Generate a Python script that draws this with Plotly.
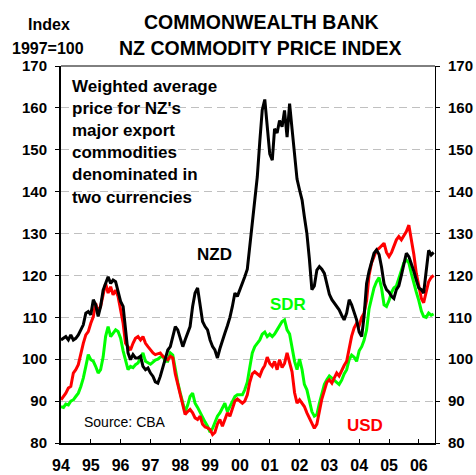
import pandas as pd
import plotly.graph_objects as go

# Monthly observations, Jan 1994 .. Jul 2006 (index 1997=100)
start_month = "1994-01-01"

nzd = [104.6, 105.0, 105.4, 104.6, 105.8, 104.6, 105.0, 105.8, 107.0, 108.2, 111.0, 111.4,
       110.6, 114.2, 113.0, 110.2, 112.6, 116.5, 118.1, 119.7, 118.1, 118.9, 118.5, 116.5,
       113.8, 112.6, 107.8, 101.5, 99.9, 101.1, 100.3, 100.3, 100.7, 98.3, 97.5, 97.9,
       96.7, 95.9, 94.6, 94.3, 95.9, 98.0, 100.5, 102.2, 103.0, 105.5, 107.8, 107.0,
       105.0, 103.0, 104.6, 106.0, 107.8, 112.6, 115.8, 117.0, 113.4, 109.0, 107.8, 107.0,
       104.6, 103.0, 102.2, 100.3, 102.5, 104.6, 106.2, 108.0, 110.0, 112.6, 115.8, 115.0,
       116.5, 118.1, 119.7, 121.5, 127.0, 133.0, 138.0, 143.5, 152.0, 159.5, 162.0, 155.0,
       149.0, 147.5, 155.0, 154.0, 157.0, 155.5, 159.4, 153.0, 161.0, 155.0, 149.5, 143.0,
       140.4, 138.0, 134.0, 130.0, 124.0, 116.6, 117.5, 121.3, 122.1, 121.5, 120.5, 118.1,
       115.5, 114.2, 113.4, 112.6, 111.8, 110.5, 109.4, 111.0, 114.2, 113.0, 111.0, 109.4,
       106.5, 105.4, 110.2, 118.1, 121.0, 123.5, 125.3, 126.1, 125.0, 122.0, 118.0, 116.6,
       116.0, 115.0, 114.5, 116.6, 117.5, 120.0, 123.0, 125.3, 124.5, 123.0, 121.0, 118.9,
       117.0, 116.6, 115.8, 121.0, 126.0, 124.9, 125.5]

usd = [90.3, 91.1, 91.9, 93.1, 93.5, 96.7, 97.5, 98.7, 101.5, 103.8, 105.8, 106.6,
       108.6, 110.2, 113.4, 111.4, 112.6, 115.4, 118.1, 115.8, 117.3, 115.4, 116.5, 115.0,
       111.8, 108.6, 103.8, 103.0, 102.2, 103.8, 105.0, 105.4, 104.6, 105.4, 103.8, 103.0,
       102.2, 101.5, 101.1, 101.3, 101.5, 100.7, 100.3, 99.9, 100.7, 100.3, 96.5, 94.0,
       92.0, 89.0, 86.8, 87.5, 88.0, 87.2, 86.0, 85.6, 86.4, 84.5, 83.8, 83.6,
       83.2, 82.0, 82.5, 84.5, 85.6, 84.0, 85.5, 87.2, 86.4, 88.0, 90.0, 90.5,
       90.0, 89.5, 90.0, 91.5, 94.5, 96.5, 97.0, 96.5, 96.0, 97.5, 98.5, 100.5,
       99.0, 98.3, 99.5, 97.5, 99.9, 98.0, 99.0, 101.5, 99.0, 97.0, 92.0, 89.5,
       90.3, 89.5, 88.7, 87.2, 86.0, 85.0, 83.5, 84.5, 88.0, 90.5, 92.5, 94.5,
       95.1, 94.3, 95.5, 96.7, 96.0, 97.5, 98.5, 99.5, 102.5, 105.5, 107.5, 108.6,
       108.0, 110.0, 111.0, 114.0, 120.0, 123.0, 124.5, 126.1, 126.5, 127.0, 127.7, 125.5,
       124.5, 125.5, 126.9, 128.5, 129.3, 128.5, 129.5, 130.5, 132.0, 129.0, 125.0, 120.5,
       117.0, 114.5, 113.5, 116.0, 118.5, 119.5, 120.0]

sdr = [88.7, 88.5, 89.3, 89.1, 90.0, 90.3, 91.1, 91.9, 93.5, 95.5, 98.3, 101.1,
       99.9, 99.5, 98.3, 96.7, 97.5, 100.5, 105.4, 107.8, 105.4, 106.2, 107.0, 106.6,
       105.0, 102.0, 99.9, 97.5, 98.3, 98.0, 98.7, 99.1, 100.3, 101.5, 99.5, 99.1,
       98.8, 99.3, 99.8, 100.0, 100.5, 100.7, 99.5, 99.5, 101.5, 101.0, 97.5, 94.5,
       91.9, 89.5, 87.5, 89.0, 91.1, 91.9, 89.5, 88.5, 87.2, 86.0, 85.0, 84.0,
       82.6, 83.5, 84.8, 86.4, 87.2, 88.5, 89.5, 87.5, 88.7, 90.0, 91.1, 91.5,
       91.5, 91.5, 92.7, 94.5, 98.0, 101.5, 103.0, 103.8, 104.6, 106.0, 106.5, 105.4,
       106.0, 105.4, 106.0, 107.0, 108.0, 109.0, 109.4, 107.0, 106.0, 103.0, 99.5, 97.5,
       100.0, 97.5, 94.0, 92.7, 90.0, 87.5, 86.4, 86.8, 89.5, 92.0, 94.0, 95.1,
       96.0, 95.5, 95.1, 94.5, 94.0, 95.0, 96.5, 97.5, 99.9, 101.0, 100.5, 99.5,
       102.0, 103.0, 104.5, 107.0, 112.0, 115.0, 117.0, 118.5, 119.5, 117.0, 113.0, 112.6,
       114.0, 116.0, 117.0, 117.5, 119.5, 121.5, 123.0, 123.7, 123.0, 120.5, 118.0, 116.0,
       114.0, 111.5, 110.2, 110.0, 111.0, 110.5, 110.8]

year_ticks = ["1994-01-01", "1995-01-01", "1996-01-01", "1997-01-01", "1998-01-01",
              "1999-01-01", "2000-01-01", "2001-01-01", "2002-01-01", "2003-01-01",
              "2004-01-01", "2005-01-01", "2006-01-01"]
year_labels = ["94", "95", "96", "97", "98", "99", "00", "01", "02", "03", "04", "05", "06"]
y_ticks = [80, 90, 100, 110, 120, 130, 140, 150, 160, 170]

dates = pd.date_range(start_month, periods=len(nzd), freq="MS")

FONT = "Arial, 'Liberation Sans', sans-serif"

PAGE_W, PAGE_H = 476, 475
L, R, T, B = 60.5, 435.0, 66.0, 443.0   # plot-area edges in page pixels

fig = go.Figure()
fig.add_trace(go.Scatter(x=dates, y=sdr, mode="lines", name="SDR",
                         line=dict(color="#00ff00", width=3), hoverinfo="skip"))
fig.add_trace(go.Scatter(x=dates, y=usd, mode="lines", name="USD",
                         line=dict(color="#ff0000", width=3), hoverinfo="skip"))
fig.add_trace(go.Scatter(x=dates, y=nzd, mode="lines", name="NZD",
                         line=dict(color="#000000", width=3), hoverinfo="skip"))
# invisible trace to carry the right-hand axis
fig.add_trace(go.Scatter(x=dates, y=nzd, mode="lines", yaxis="y2", showlegend=False,
                         line=dict(color="rgba(0,0,0,0)", width=0), hoverinfo="skip"))

tickfont = dict(family=FONT, size=15, color="black", weight="bold")

fig.update_layout(
    width=PAGE_W, height=PAGE_H,
    margin=dict(l=L, r=PAGE_W - R, t=T, b=PAGE_H - B, autoexpand=False),
    paper_bgcolor="white", plot_bgcolor="white",
    showlegend=False,
    font=dict(family=FONT, color="black"),
    xaxis=dict(
        type="date",
        range=["1994-01-01", "2006-07-18"],
        tickvals=year_ticks, ticktext=year_labels,
        ticks="inside", ticklen=4, tickwidth=1, tickcolor="black",
        showline=True, linecolor="black", linewidth=2,
        showgrid=False, zeroline=False, automargin=False,
        tickfont=dict(family=FONT, size=16, color="black", weight="bold"),
        ticklabelstandoff=7,
    ),
    yaxis=dict(
        range=[80, 170], tickvals=y_ticks,
        ticks="outside", ticklen=4, tickwidth=1, tickcolor="black",
        showline=True, linecolor="black", linewidth=2,
        showgrid=True, gridcolor="#c0c0c0", gridwidth=1, griddash="8px,5px",
        zeroline=False, automargin=False, tickfont=tickfont, ticklabelstandoff=5,
    ),
    yaxis2=dict(
        range=[80, 170], tickvals=y_ticks, overlaying="y", side="right",
        ticks="outside", ticklen=4, tickwidth=1, tickcolor="black",
        showline=True, linecolor="black", linewidth=1,
        showgrid=False, zeroline=False, automargin=False,
        tickfont=tickfont, ticklabelstandoff=5,
    ),
    shapes=[dict(type="line", xref="paper", yref="paper", x0=0, x1=1, y0=1, y1=1,
                 line=dict(color="black", width=1))],
)

ann = []
def add_text(text, x, y, size, color="black", bold=True, xanchor="center", align="center"):
    ann.append(dict(text=text, x=(x - L) / (R - L), y=(B - y) / (B - T),
                    xref="paper", yref="paper",
                    xanchor=xanchor, yanchor="middle", showarrow=False, align=align,
                    font=dict(family=FONT, size=size, color=color,
                              weight="bold" if bold else "normal")))

add_text("COMMONWEALTH BANK", 261, 22, 19.5)
add_text("NZ COMMODITY PRICE INDEX", 260, 48, 19.5)
add_text("Index", 48, 25, 16)
add_text("1997=100", 47, 48, 16)
add_text("Weighted average<br>price for NZ's<br>major export<br>commodities<br>denominated in<br>two currencies",
         70, 142, 17, xanchor="left", align="left")
add_text("NZD", 214, 254, 17)
add_text("SDR", 288, 304, 17, color="#00ff00")
add_text("USD", 365, 425, 17, color="#ff0000")
add_text("Source: CBA", 82, 422, 14, bold=False, xanchor="left", align="left")
fig.update_layout(annotations=ann)

# remove the browser's default 8px page margin so the figure sits at the page origin
fig.write_html("out.html",
               config={"displayModeBar": False},
               post_script="document.body.style.margin='0';document.body.style.overflow='hidden';")
